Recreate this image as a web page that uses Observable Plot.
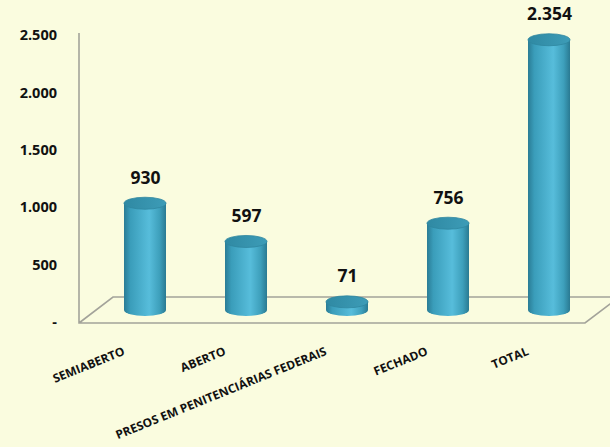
<!DOCTYPE html>
<html>
<head>
<meta charset="utf-8">
<script src="https://cdn.jsdelivr.net/npm/d3@7"></script>
<script src="https://cdn.jsdelivr.net/npm/@observablehq/plot@0.6"></script>
<style>
  html, body { margin: 0; padding: 0; background: #fafcdf; }
  #chart svg { display: block; }
</style>
</head>
<body>
<div id="chart"></div>
<script>
const categories = ["SEMIABERTO", "ABERTO", "PRESOS EM PENITENCIÁRIAS FEDERAIS", "FECHADO", "TOTAL"];
const values = [930, 597, 71, 756, 2354];
const valueLabels = ["930", "597", "71", "756", "2.354"];
const yTicks = [0, 500, 1000, 1500, 2000, 2500];
const yTickLabels = ["-", "500", "1.000", "1.500", "2.000", "2.500"];

const data = categories.map((c, i) => ({cat: c, value: values[i], label: valueLabels[i]}));
const FONT = "'Open Sans', 'DejaVu Sans', sans-serif";

const defsMark = () => {
  const ns = "http://www.w3.org/2000/svg";
  const defs = document.createElementNS(ns, "defs");
  defs.innerHTML = `
    <linearGradient id="cylGrad" x1="0" x2="1" y1="0" y2="0">
      <stop offset="0" stop-color="#2a7c95"/>
      <stop offset="0.15" stop-color="#3a9dba"/>
      <stop offset="0.6" stop-color="#57bddb"/>
      <stop offset="0.85" stop-color="#3d9fbb"/>
      <stop offset="1" stop-color="#2a7a92"/>
    </linearGradient>
    <linearGradient id="topGrad" x1="0" x2="1" y1="0" y2="0">
      <stop offset="0" stop-color="#2f89a3"/>
      <stop offset="1" stop-color="#3d9cb7"/>
    </linearGradient>`;
  return defs;
};

const floorMark = (index, scales, values, dims) => {
  const ns = "http://www.w3.org/2000/svg";
  const g = document.createElementNS(ns, "g");
  const y0 = scales.y(0);
  const front = y0 + 13, back = y0 - 13;
  const xl = 79, depth = 34, xr = dims.width - 25;
  const yTop = scales.y(yTicks[yTicks.length - 1]) + 10;
  const path = document.createElementNS(ns, "path");
  path.setAttribute("d",
    `M${xl},${yTop}L${xl},${front}L${xr},${front}L${xr + depth},${back}` +
    `M${xl},${front}L${xl + depth},${back}L${dims.width},${back}`);
  path.setAttribute("fill", "none");
  path.setAttribute("stroke", "#a3a39a");
  path.setAttribute("stroke-width", "1.6");
  g.appendChild(path);
  return g;
};

const plot = Plot.plot({
  width: 610,
  height: 447,
  marginLeft: 94.5,
  marginRight: 10.5,
  marginTop: 23,
  marginBottom: 137,
  style: {background: "#fafcdf", fontFamily: FONT},
  x: {domain: categories, paddingInner: 0.58, paddingOuter: 0.29, axis: null},
  y: {domain: [0, 2500], axis: null},
  marks: [
    defsMark,
    floorMark,
    Plot.text(yTicks, {
      y: d => d, text: (d, i) => yTickLabels[i],
      frameAnchor: "left", dx: -38, dy: 12, textAnchor: "end",
      fontSize: 14.5, fontWeight: "bold", fill: "#111"
    }),
    // bottom ellipse
    Plot.barY(data, {x: "cat", y1: () => 0, y2: () => 0, insetTop: -6, insetBottom: -6, rx: 40, ry: 6, fill: "url(#cylGrad)"}),
    // body
    Plot.barY(data, {x: "cat", y1: () => 0, y2: "value", fill: "url(#cylGrad)"}),
    // top ellipse
    Plot.barY(data, {x: "cat", y1: "value", y2: "value", insetTop: -6, insetBottom: -6, rx: 40, ry: 6, fill: "url(#topGrad)", stroke: "#2e86a0", strokeWidth: 0.8}),
    Plot.text(data, {
      x: "cat", y: "value", text: "label", lineAnchor: "bottom", dy: -20,
      fontSize: 17.5, fontWeight: "bold", fill: "#111"
    }),
    Plot.text(data, {
      x: "cat", y: () => 0, text: "cat", textAnchor: "end", lineAnchor: "bottom",
      rotate: -22, dx: -20, dy: 44, fontSize: 12, fontWeight: "bold", fill: "#111"
    })
  ]
});
document.getElementById("chart").appendChild(plot);
</script>
</body>
</html>
